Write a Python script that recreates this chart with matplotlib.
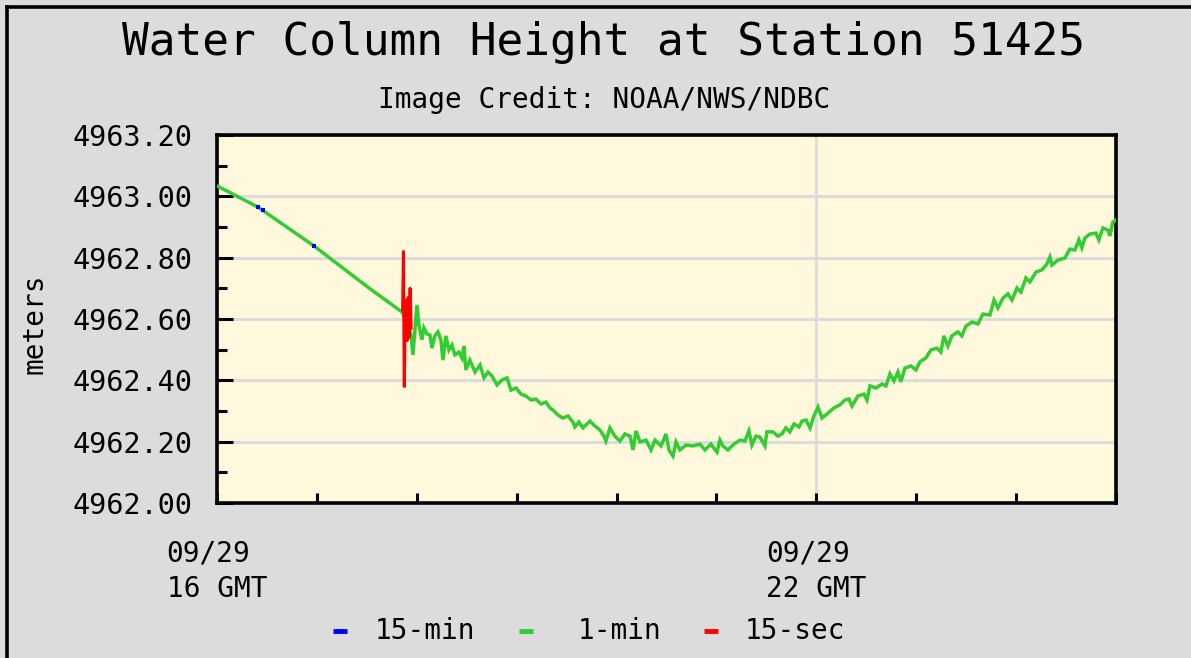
"""
Water column height at DART station 51425, redrawn from the NDBC plot.
"""

import matplotlib
matplotlib.use("Agg")
import matplotlib.pyplot as plt
from matplotlib.lines import Line2D
from matplotlib.ticker import FixedLocator, MultipleLocator, FormatStrFormatter

# minutes after 09/29 16:00 GMT, height in meters
green_min = [
    0.0, 24.6, 58.3, 91.3, 111.1,
    115.3, 116.5, 117.7, 118.9, 120.1, 121.3, 123.1, 124.3, 126.1, 127.9,
    129.1, 130.9, 132.7, 134.5, 135.7, 137.5, 139.3, 141.1, 142.9, 145.3,
    147.1, 148.3, 149.5, 151.9, 155.0, 158.0, 160.4, 162.8, 165.2, 168.2,
    171.2, 174.2, 176.6, 179.6, 182.6, 185.6, 188.6, 191.6, 194.6, 197.6,
    200.0, 201.8, 204.8, 207.8, 210.8, 213.8, 215.0, 217.4, 219.8, 224.0,
    227.0, 230.0, 232.4, 233.6, 236.0, 239.0, 242.0, 245.0, 248.1, 249.9,
    251.7, 254.1, 257.7, 260.7, 263.1, 266.7, 269.7, 271.5, 273.9, 275.7,
    278.1, 281.7, 285.9, 290.1, 293.1, 296.7, 300.3, 302.1, 303.9, 306.9,
    310.5, 314.1, 317.1, 319.5, 321.3, 323.7, 326.1, 329.1, 330.3, 333.9,
    336.9, 339.3, 341.7, 344.1, 346.6, 349.6, 351.4, 353.8, 356.2, 358.6,
    361.0, 363.4, 367.0, 370.6, 374.2, 377.2, 379.6, 381.4, 385.0, 388.6,
    390.4, 392.2, 395.8, 399.4, 401.8, 404.2, 406.6, 409.0, 410.8, 413.2,
    416.8, 419.8, 422.2, 425.8, 428.8, 432.4, 434.8, 436.6, 439.0, 441.4,
    445.0, 447.4, 449.9, 453.5, 457.1, 460.1, 464.3, 466.7, 469.1, 472.1,
    475.1, 477.5, 480.5, 482.9, 485.9, 488.3, 491.9, 495.5, 498.5, 500.3,
    501.5, 505.1, 509.3, 512.3, 515.3, 517.7, 519.5, 521.3, 524.3, 527.9,
    529.7, 532.1, 535.1, 536.3, 538.1, 539.9,
]
green_m = [
    4963.034, 4962.965, 4962.838, 4962.701, 4962.623,
    4962.577, 4962.548, 4962.483, 4962.564, 4962.646, 4962.580, 4962.532, 4962.571, 4962.551, 4962.548,
    4962.505, 4962.545, 4962.558, 4962.532, 4962.466, 4962.545, 4962.499, 4962.515, 4962.483, 4962.492,
    4962.473, 4962.512, 4962.434, 4962.466, 4962.427, 4962.450, 4962.408, 4962.427, 4962.414, 4962.385,
    4962.401, 4962.408, 4962.368, 4962.375, 4962.355, 4962.349, 4962.336, 4962.339, 4962.323, 4962.329,
    4962.310, 4962.303, 4962.287, 4962.277, 4962.284, 4962.264, 4962.248, 4962.264, 4962.245, 4962.267,
    4962.251, 4962.238, 4962.218, 4962.202, 4962.245, 4962.218, 4962.202, 4962.225, 4962.218, 4962.173,
    4962.235, 4962.199, 4962.205, 4962.173, 4962.205, 4962.186, 4962.225, 4962.173, 4962.153, 4962.199,
    4962.173, 4962.189, 4962.186, 4962.192, 4962.173, 4962.192, 4962.166, 4962.205, 4962.186, 4962.173,
    4962.192, 4962.205, 4962.202, 4962.235, 4962.189, 4962.218, 4962.215, 4962.186, 4962.232, 4962.232,
    4962.218, 4962.225, 4962.245, 4962.232, 4962.258, 4962.248, 4962.267, 4962.271, 4962.245, 4962.284,
    4962.313, 4962.277, 4962.293, 4962.310, 4962.320, 4962.336, 4962.339, 4962.316, 4962.349, 4962.355,
    4962.336, 4962.382, 4962.375, 4962.388, 4962.382, 4962.421, 4962.398, 4962.427, 4962.395, 4962.440,
    4962.447, 4962.434, 4962.460, 4962.473, 4962.499, 4962.505, 4962.492, 4962.545, 4962.512, 4962.545,
    4962.558, 4962.545, 4962.577, 4962.590, 4962.584, 4962.616, 4962.613, 4962.662, 4962.636, 4962.668,
    4962.682, 4962.662, 4962.701, 4962.688, 4962.734, 4962.721, 4962.753, 4962.760, 4962.779, 4962.802,
    4962.776, 4962.792, 4962.799, 4962.828, 4962.825, 4962.858, 4962.832, 4962.864, 4962.877, 4962.880,
    4962.858, 4962.897, 4962.890, 4962.871, 4962.916, 4962.923,
]

red_min = [111.5, 112.0, 112.5, 113.0, 113.6, 114.2, 114.8, 115.4, 116.0, 116.6]
red_m = [4962.63, 4962.82, 4962.38, 4962.60, 4962.66, 4962.53, 4962.67, 4962.54, 4962.70, 4962.57]

blue_min = [24.6, 27.6, 58.3]
blue_m = [4962.965, 4962.955, 4962.838]

xtick_pos = [0, 360]
xtick_labels = ["09/29\n16 GMT", "09/29\n22 GMT"]
legend_labels = ["15-min", "1-min", "15-sec"]

BG = "#dcdcdc"
PLOT_BG = "#fff8dc"
GREEN = "#33cc33"
FONT = "DejaVu Sans Mono"

W, H = 1191, 658
fig = plt.figure(figsize=(W / 100, H / 100), dpi=100, facecolor=BG)
ax = fig.add_axes([217 / W, 1 - 503 / H, (1116 - 217) / W, (503 - 135) / H])
ax.set_facecolor(PLOT_BG)

ax.plot(green_min, green_m, color=GREEN, lw=2.5, solid_joinstyle="miter", zorder=3)
ax.plot(red_min, red_m, color="red", lw=2.2, zorder=4)
ax.plot(blue_min, blue_m, ls="none", marker="s", ms=2.6, mew=0, color="blue", zorder=5)

ax.set_xlim(0, 540)
ax.set_ylim(4962.0, 4963.2)

ax.xaxis.set_major_locator(FixedLocator(xtick_pos))
ax.xaxis.set_minor_locator(MultipleLocator(60))
ax.set_xticklabels(xtick_labels, fontfamily=FONT, fontsize=20, multialignment="left",
                   linespacing=1.35)
ax.yaxis.set_major_locator(MultipleLocator(0.2))
ax.yaxis.set_minor_locator(MultipleLocator(0.1))
ax.yaxis.set_major_formatter(FormatStrFormatter("%.2f"))
for lab in ax.get_yticklabels():
    lab.set_fontfamily(FONT)
    lab.set_fontsize(20.5)

ax.tick_params(axis="both", which="both", direction="in", width=2.2, color="black")
ax.tick_params(axis="y", which="major", length=11.5, pad=18)
ax.tick_params(axis="y", which="minor", length=7)
ax.tick_params(axis="x", which="both", length=7, pad=26)

ax.grid(True, which="major", color=BG, lw=2.2, zorder=1)
ax.set_axisbelow(True)
for sp in ax.spines.values():
    sp.set_linewidth(2.6)
    sp.set_color("black")

fig.text(603 / W, 1 - 43 / H, "Water Column Height at Station 51425", ha="center", va="center",
         fontfamily=FONT, fontsize=32)
fig.text(604 / W, 1 - 100 / H, "Image Credit: NOAA/NWS/NDBC", ha="center", va="center",
         fontfamily=FONT, fontsize=20)
fig.text(35 / W, 1 - 324 / H, "meters", rotation=90, ha="center", va="center",
         fontfamily=FONT, fontsize=20)

# legend, drawn by hand in figure pixels
legend_y = 1 - 631 / H
for (x0, x1, tx), col, lab in zip([(333, 347, 375), (519, 533, 578), (704, 718, 745)],
                                  ["blue", GREEN, "red"], legend_labels):
    fig.add_artist(Line2D([x0 / W, x1 / W], [legend_y, legend_y], color=col, lw=3.5,
                          solid_capstyle="butt", transform=fig.transFigure))
    fig.text(tx / W, legend_y, lab, ha="left", va="center", fontfamily=FONT, fontsize=20)

# outer frame: only the top and left edges show in the source image
fig.add_artist(Line2D([6.5 / W, 1], [1 - 6.5 / H, 1 - 6.5 / H], color="black", lw=2.6,
                      transform=fig.transFigure))
fig.add_artist(Line2D([6.5 / W, 6.5 / W], [0, 1 - 6.5 / H], color="black", lw=2.6,
                      transform=fig.transFigure))

fig.savefig("out.png", dpi=100, facecolor=BG)
